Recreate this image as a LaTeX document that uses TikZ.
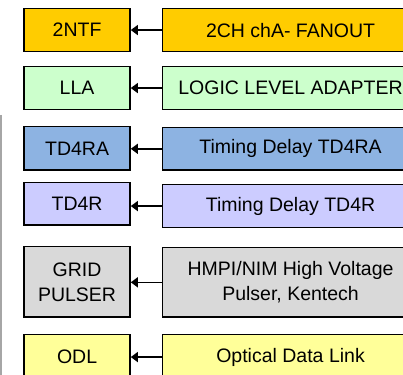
\documentclass[tikz,border=0pt]{standalone}
\usepackage{fontspec}
\setmainfont{Liberation Sans}
\usetikzlibrary{arrows.meta}
\definecolor{cOrange}{HTML}{FFCC00}
\definecolor{cGreen}{HTML}{CCFFCC}
\definecolor{cBlue}{HTML}{8DB3E2}
\definecolor{cLav}{HTML}{CCCCFF}
\definecolor{cGray}{HTML}{D9D9D9}
\definecolor{cYellow}{HTML}{FFFF99}
\definecolor{cEdge}{HTML}{A6A6A6}
\begin{document}
\begin{tikzpicture}[x=1pt,y=-1pt,
  box/.style={draw=black,line width=1.5pt,inner sep=0pt,anchor=north west,
    font=\fontsize{19.5}{25}\selectfont,align=center},
  lbox/.style={box,minimum width=106pt},
  rbox/.style={box,minimum width=256pt},
  conn/.style={-{Triangle[length=7pt,width=10pt]},line width=1.5pt}]
\useasboundingbox (0,0) rectangle (403,374);
\clip (0,0) rectangle (403,374);
\draw[cEdge,line width=1.5pt] (0.75,115) coordinate (e1) -- (0.75,380) coordinate (e2);
% row 1
\node[lbox,fill=cOrange,minimum height=43pt] (l1) at (23.3,7.8) {2NTF};
\node[rbox,fill=cOrange,minimum height=43pt] (r1) at (161.8,7.8) {2CH chA- FANOUT};
% row 2
\node[lbox,fill=cGreen,minimum height=43pt] (l2) at (23.3,65.8) {LLA};
\node[rbox,fill=cGreen,minimum height=43pt] (r2) at (161.8,65.8) {LOGIC LEVEL ADAPTER};
% row 3
\node[lbox,fill=cBlue,minimum height=43.5pt] (l3) at (23.3,125.8) {TD4RA};
\node[rbox,fill=cBlue,minimum height=42.5pt] (r3) at (161.8,126.8) {Timing Delay TD4RA};
% row 4
\node[lbox,fill=cLav,minimum height=42.5pt] (l4) at (23.3,181.8) {TD4R};
\node[rbox,fill=cLav,minimum height=43pt] (r4) at (161.8,183.8) {Timing Delay TD4R};
% row 5
\node[lbox,fill=cGray,minimum height=70.5pt] (l5) at (23.3,245.8) {GRID\\PULSER};
\node[rbox,fill=cGray,minimum height=69.5pt] (r5) at (161.8,246.8) {HMPI/NIM High Voltage\\Pulser, Kentech};
% row 6
\node[lbox,fill=cYellow,minimum height=45pt] (l6) at (23.3,333.8) {ODL};
\node[rbox,fill=cYellow,minimum height=45pt] (r6) at (161.8,333.8) {Optical Data Link};
% connectors
\draw[conn] (r1.west) -- (r1.west -| l1.east);
\draw[conn] (r2.west) -- (r2.west -| l2.east);
\draw[conn] (r3.west) -- (r3.west -| l3.east);
\draw[conn] (r4.west) -- (r4.west -| l4.east);
\draw[conn] (r5.west) -- (r5.west -| l5.east);
\draw[conn] (r6.west) -- (r6.west -| l6.east);
\end{tikzpicture}
\end{document}
